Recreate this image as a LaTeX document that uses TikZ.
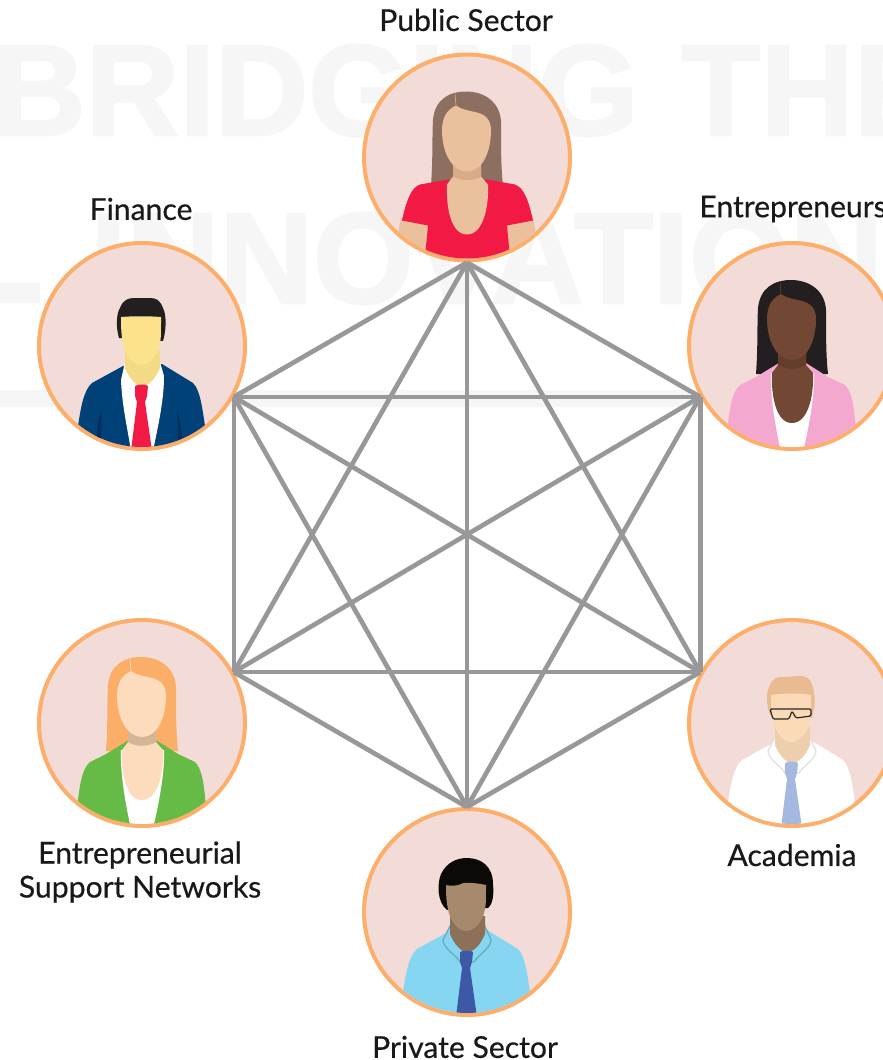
\documentclass[tikz,border=0pt]{standalone}
\usepackage{fontspec}
\setmainfont[FakeBold=0.5]{Lato}
\newfontfamily\markfont[BoldFeatures={FakeBold=2}]{Liberation Sans}
\usepackage{tikz}

\definecolor{ringorange}{HTML}{FDAE6B}
\definecolor{ringpink}{HTML}{F3DCD7}
\definecolor{linkgray}{HTML}{98989B}
\definecolor{markgray}{HTML}{F6F6F6}
\definecolor{pubhair}{HTML}{8C6F60}
\definecolor{pubskin}{HTML}{EBC09C}
\definecolor{pubneck}{HTML}{D9AC89}
\definecolor{pubtop}{HTML}{F21A44}
\definecolor{finsuit}{HTML}{004178}
\definecolor{finfold}{HTML}{002D5A}
\definecolor{finhair}{HTML}{231F20}
\definecolor{finskin}{HTML}{FDE28C}
\definecolor{finneck}{HTML}{F3DA87}
\definecolor{entcoat}{HTML}{F5A8CF}
\definecolor{entskin}{HTML}{724733}
\definecolor{entneck}{HTML}{643C2A}
\definecolor{esnhair}{HTML}{FBAE68}
\definecolor{esncoat}{HTML}{65BB46}
\definecolor{esnskin}{HTML}{FCDCBC}
\definecolor{esnneck}{HTML}{D4B696}
\definecolor{acahair}{HTML}{E9BB91}
\definecolor{acaskin}{HTML}{FBDAB8}
\definecolor{acaneck}{HTML}{EDCFAE}
\definecolor{acatie}{HTML}{A5B9E0}
\definecolor{prihair}{HTML}{0C0A06}
\definecolor{priskin}{HTML}{A68A6E}
\definecolor{prineck}{HTML}{8C7058}
\definecolor{prishirt}{HTML}{86D5F1}
\definecolor{pritie}{HTML}{3E58A8}

\tikzset{
	ring/.style={shape=circle,draw=ringorange,fill=ringpink,line width=3pt,minimum size=154.5pt},
	link/.style={draw=linkgray,line width=3.5pt},
	tag/.style={text=black!90,align=center,font=\fontsize{22.6}{25.5}\selectfont},
	bigword/.style={text=markgray,inner sep=0pt,anchor=base west,font=\markfont\bfseries\fontsize{97}{97}\selectfont},
	avatar/.style={shift={(#1.center)}}
}

\newcommand{\longhair}[1]{
	\fill[#1] (-36,28) .. controls (-34,0) and (-35,-20) .. (-34,-38) .. controls (-32,-58) and (-18,-66) .. (-1,-66) .. controls (18,-66) and (33,-55) .. (34,-36) .. controls (34,-10) and (34,10) .. (36,28) -- cycle;
}
\newcommand{\blazer}[1]{
	\fill[#1] (-13,17) -- (-36,31) -- (-52,39) .. controls (-60,46) and (-62,60) .. (-65,85) -- (-65,110) -- (65,110) -- (64,85) .. controls (62,60) and (60,46) .. (53,39) -- (36,31) -- (14,17) -- cycle;
	\fill[white] (-21,27) .. controls (-22,50) and (-16,85) .. (-11,105) -- (11,105) .. controls (16,85) and (23,50) .. (22,27) -- cycle;
}
\newcommand{\ladyface}[3]{
	\fill[#1] (-14,6) -- (-14,19) -- (-20,27) .. controls (-21,50) and (-16,77) .. (0,77) .. controls (16,77) and (22,50) .. (21,27) -- (14,19) -- (14,6) -- cycle;
	\fill[#2] (-14,6) -- (-14,19) .. controls (-6,24) and (6,24) .. (14,19) -- (14,6) -- cycle;
	\fill[#1] (-11,-52) .. controls (-20,-48) and (-25,-40) .. (-25,-27) .. controls (-25,-5) and (-15,14) .. (0,14) .. controls (15,14) and (24,-5) .. (24,-27) .. controls (24,-38) and (18,-43) .. (10,-45) .. controls (2,-47) and (-6,-48) .. (-11,-52) -- cycle;
	\draw[#3,line width=.5pt] (-11,-52) -- (-12,-64);
}
\newcommand{\mantorso}[1]{
	\fill[#1] (-19,20) -- (-50,37) .. controls (-58,44) and (-61,60) .. (-64,80) -- (-64,110) -- (64,110) -- (63,80) .. controls (60,60) and (58,44) .. (51,37) -- (20,18) -- cycle;
}
\newcommand{\mancollar}[2]{
	\fill[#1,draw=#2,line width=1pt] (-16,12) -- (-24,28) .. controls (-24,36) and (-10,44) .. (-7,50) -- (7,50) .. controls (10,44) and (24,36) .. (24,28) -- (17,12) -- cycle;
}
\newcommand{\manface}[3]{
	\fill[#2] (-17,4) -- (-17,22) .. controls (-12,34) and (-5,40) .. (0,40) .. controls (6,40) and (13,34) .. (18,22) -- (18,4) -- cycle;
	\fill[#1] (-21,#3) .. controls (-21,-12) and (-20,-8) .. (-19,-3) .. controls (-17,10) and (-8,19) .. (-1,19) .. controls (7,19) and (16,10) .. (18,-3) .. controls (19,-8) and (19,-12) .. (19,#3) .. controls (6,-30) and (-8,-30) .. (-21,#3) -- cycle;
}
\newcommand{\mantie}[1]{
	\fill[#1] (-7,40) .. controls (-3,38) and (3,38) .. (6,40) -- (5,50) -- (3,56) -- (10,105) -- (-11,105) -- (-5,56) -- (-7,50) -- cycle;
}

\begin{document}
\begin{tikzpicture}[x=.75pt,y=-.75pt]
	\useasboundingbox (0,0) rectangle (882,1060);

	\fill[markgray] (0,283) rectangle (40,303);
	\fill[markgray] (0,390) rectangle (698,407);
	\node[bigword] (markone) at (-8,135) {BRIDGING\hspace{32pt}THE};
	\node[bigword] (marktwo) at (90,303) {INNOVATION};

	\node[ring] (pub) at (467,157.5) {};
	\node[ring] (fin) at (142,346) {};
	\node[ring] (ent) at (792,346) {};
	\node[ring] (esn) at (142,723) {};
	\node[ring] (aca) at (792,723) {};
	\node[ring] (pri) at (467,912) {};

	\coordinate (pubp) at (pub.south);
	\coordinate (finp) at (fin.-29);
	\coordinate (entp) at (ent.-151);
	\coordinate (esnp) at (esn.29);
	\coordinate (acap) at (aca.151);
	\coordinate (prip) at (pri.north);

	\path[link] (pubp) edge (finp);
	\path[link] (pubp) edge (entp);
	\path[link] (pubp) edge (esnp);
	\path[link] (pubp) edge (acap);
	\path[link] (pubp) edge (prip);
	\path[link] (finp) edge (entp);
	\path[link] (finp) edge (esnp);
	\path[link] (finp) edge (acap);
	\path[link] (finp) edge (prip);
	\path[link] (entp) edge (esnp);
	\path[link] (entp) edge (acap);
	\path[link] (entp) edge (prip);
	\path[link] (esnp) edge (acap);
	\path[link] (esnp) edge (prip);
	\path[link] (acap) edge (prip);

	\begin{scope}[avatar=pub]
		\clip (0,0) circle [radius=101];
		\longhair{pubhair}
		\fill[pubskin] (-66,60) -- (-75,110) -- (75,110) -- (66,60) -- cycle;
		\fill[pubtop] (-19,22) -- (-47,27) .. controls (-55,30) and (-60,40) .. (-65,63) -- (-39,68) -- (-43,110) -- (44,110) -- (40,68) -- (66,63) .. controls (61,40) and (56,30) .. (48,27) -- (20,22) -- cycle;
		\ladyface{pubskin}{pubneck}{pubneck}
	\end{scope}

	\begin{scope}[avatar=fin]
		\clip (0,0) circle [radius=101];
		\mantorso{finsuit}
		\fill[white] (-17,16) -- (-21,34) .. controls (-20,60) and (-14,85) .. (-11,105) -- (11,105) .. controls (16,80) and (22,55) .. (22,30) -- (18,16) -- cycle;
		\fill[finfold] (-41,64) .. controls (-44,75) and (-45,85) .. (-45,92) -- (-41,94) .. controls (-41,85) and (-40,75) .. (-41,64) -- cycle;
		\fill[finfold] (35,64) .. controls (38,75) and (40,85) .. (40,92) -- (36,94) .. controls (36,85) and (36,75) .. (35,64) -- cycle;
		\fill[finhair] (-23,-8) .. controls (-26,-18) and (-26,-32) .. (-22,-38) .. controls (-19,-46) and (-14,-48) .. (-8,-48) -- (8,-48) .. controls (14,-48) and (18,-46) .. (21,-38) .. controls (25,-30) and (24,-15) .. (21,-5) -- cycle;
		\manface{finskin}{finneck}{-29}
		\mantie{pubtop}
	\end{scope}

	\begin{scope}[avatar=ent]
		\clip (0,0) circle [radius=101];
		\longhair{finhair}
		\blazer{entcoat}
		\ladyface{entskin}{entneck}{entneck}
	\end{scope}

	\begin{scope}[avatar=esn]
		\clip (0,0) circle [radius=101];
		\longhair{esnhair}
		\blazer{esncoat}
		\ladyface{esnskin}{esnneck}{esnskin}
	\end{scope}

	\begin{scope}[avatar=aca]
		\clip (0,0) circle [radius=101];
		\mantorso{white}
		\mancollar{white}{black!12}
		\fill[acahair] (-22,-8) .. controls (-26,-18) and (-26,-32) .. (-22,-38) .. controls (-19,-46) and (-14,-46) .. (-8,-46) -- (8,-47) .. controls (14,-47) and (18,-45) .. (20,-38) .. controls (24,-30) and (23,-15) .. (20,-5) -- cycle;
		\manface{acaskin}{acaneck}{-28}
		\mantie{acatie}
		\draw[black!85,line width=.9pt,rounded corners=1pt] (-22,-14) -- (19,-14) -- (19,-7) -- (4,-5) -- (0,-12) -- (-3,-4) -- (-19,-4) -- cycle;
	\end{scope}

	\begin{scope}[avatar=pri]
		\clip (0,0) circle [radius=101];
		\mantorso{prishirt}
		\mancollar{prishirt}{prishirt!80!black}
		\fill[prihair] (-20,-2) .. controls (-30,-10) and (-30,-28) .. (-26,-38) .. controls (-20,-50) and (-10,-54) .. (0,-54) .. controls (15,-54) and (26,-45) .. (26,-28) .. controls (27,-18) and (26,-8) .. (21,-4) -- cycle;
		\manface{priskin}{prineck}{-27}
		\fill[prihair] (-21,-27) .. controls (-10,-24) and (0,-30) .. (6,-37) .. controls (12,-37) and (18,-34) .. (20,-28) -- (20,-40) -- (-21,-40) -- cycle;
		\mantie{pritie}
	\end{scope}

	\node[tag] (publbl) at (466,20) {Public Sector};
	\node[tag] (finlbl) at (141,209) {Finance};
	\node[tag] (entlbl) at (793,209) {Entrepreneurs};
	\node[tag] (esnlbl) at (140,872) {Entrepreneurial\\Support Networks};
	\node[tag] (acalbl) at (792,855) {Academia};
	\node[tag] (prilbl) at (465,1047) {Private Sector};
\end{tikzpicture}
\end{document}
